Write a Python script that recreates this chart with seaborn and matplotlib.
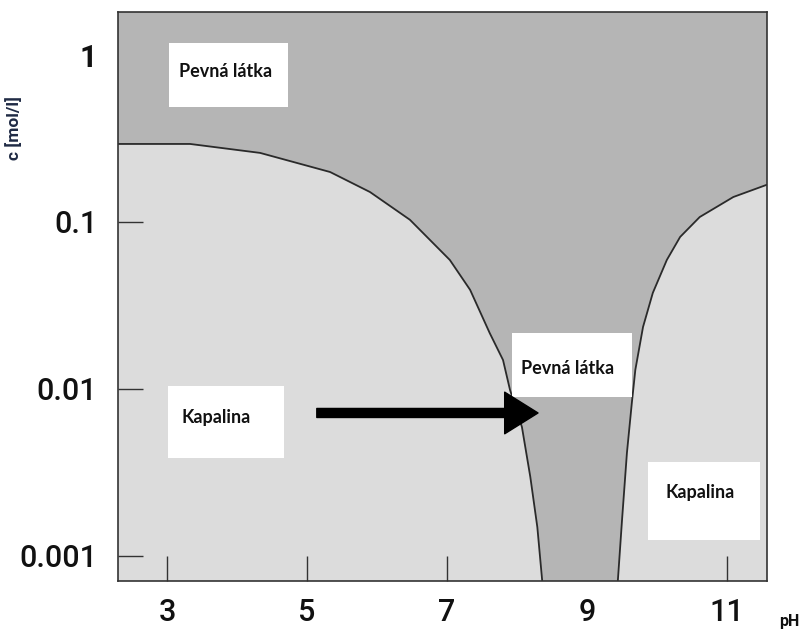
import numpy as np
import pandas as pd
import seaborn as sns
import matplotlib
matplotlib.use("Agg")
import matplotlib.pyplot as plt
from matplotlib.patches import Rectangle

# ---- data ----
left_ph = [2.30, 3.33, 4.33, 5.33, 5.90, 6.47, 7.04, 7.33, 7.61, 7.80, 7.90, 8.07, 8.19, 8.29, 8.36]
left_c = [0.293, 0.293, 0.259, 0.199, 0.151, 0.103, 0.0592, 0.0392, 0.0216, 0.0149, 0.00986, 0.00592, 0.00297, 0.00149, 0.000708]
right_ph = [9.44, 9.50, 9.57, 9.64, 9.69, 9.80, 9.94, 10.14, 10.33, 10.61, 11.09, 11.57]
right_c = [0.000708, 0.00164, 0.00414, 0.00824, 0.0130, 0.0235, 0.0376, 0.0592, 0.0813, 0.107, 0.141, 0.167]
x_ticks = [3, 5, 7, 9, 11]
x_ticklabels = ["3", "5", "7", "9", "11"]
y_ticks = [1, 0.1, 0.01, 0.001]
y_ticklabels = ["1", "0.1", "0.01", "0.001"]
region_labels = ["Pevná látka", "Pevná látka", "Kapalina", "Kapalina"]
arrow_c = 0.00718
arrow_ph_start = 5.14
arrow_ph_end = 8.30

sns.set_theme(style="white")
plt.rcParams['font.family'] = ['Roboto', 'Liberation Sans', 'DejaVu Sans']

dark = "#b5b5b5"
light = "#dcdcdc"

fig = plt.figure(figsize=(8.09, 6.34), dpi=100)
fig.patch.set_facecolor("white")
ax = fig.add_axes([118/809, (634-581)/634, 649/809, 569/634])
ax.set_facecolor(dark)
ax.set_axisbelow(False)

df_left = pd.DataFrame({"pH": left_ph, "c": left_c})
df_right = pd.DataFrame({"pH": right_ph, "c": right_c})

ax.set_yscale("log")
ax.fill_between(df_left["pH"], 1e-5, df_left["c"], color=light, lw=0, zorder=1)
ax.fill_between(df_right["pH"], 1e-5, df_right["c"], color=light, lw=0, zorder=1)
sns.lineplot(data=df_left, x="pH", y="c", ax=ax, color="#2a2a2a", lw=1.3, sort=False, zorder=2)
sns.lineplot(data=df_right, x="pH", y="c", ax=ax, color="#2a2a2a", lw=1.3, sort=False, zorder=2)

ax.set_xlim(2.30, 11.571)
ax.set_ylim(0.000708, 1.807)

ax.set_xticks(x_ticks)
ax.set_xticklabels(x_ticklabels)
ax.set_yticks(y_ticks)
ax.set_yticklabels(y_ticklabels)
ax.yaxis.set_minor_locator(matplotlib.ticker.NullLocator())
ax.tick_params(axis="both", which="major", direction="in", length=18, width=1.0,
               color="#333333", labelsize=22, labelcolor="#111111")
ax.tick_params(axis="y", pad=15, left=True)
ax.tick_params(axis="x", pad=12, bottom=True)
for lab in ax.get_yticklabels() + ax.get_xticklabels():
    lab.set_fontweight("medium")
for lab in ax.get_yticklabels():
    if lab.get_text() == "1":
        lab.set_fontweight("bold")
# hide ticks that are not visible in the reference
ax.xaxis.get_major_ticks()[3].tick1line.set_visible(False)
ax.yaxis.get_major_ticks()[0].tick1line.set_visible(False)

for s in ax.spines.values():
    s.set_visible(True)
    s.set_color("#333333")
    s.set_linewidth(1.2)

ax.set_ylabel("c [mol/l]", fontsize=12.5, fontweight="bold", color="#1f2a44")
ax.yaxis.set_label_coords(-0.148, 0.796)
ax.set_xlabel("pH", fontsize=11.5, fontweight="bold", color="#111111")
ax.xaxis.set_label_coords(1.035, -0.058)

# white label boxes (axes fraction coords)
boxes = [
    (0.0786, 0.833, 0.1834, 0.1125, 0.165, 0.8946),
    (0.607, 0.3234, 0.185, 0.1125, 0.693, 0.374),
    (0.077, 0.216, 0.179, 0.1265, 0.151, 0.288),
    (0.8166, 0.072, 0.1726, 0.137, 0.897, 0.156),
]
for (x0, y0, w, h, tx, ty), lab in zip(boxes, region_labels):
    ax.add_patch(Rectangle((x0, y0), w, h, transform=ax.transAxes, facecolor="white",
                           edgecolor="none", zorder=4))
    ax.text(tx, ty, lab, transform=ax.transAxes, ha="center", va="center",
            fontsize=13, fontweight="bold", family=["Lato", "DejaVu Sans"],
            color="#111111", zorder=5)

ax.annotate("", xy=(arrow_ph_end, arrow_c), xytext=(arrow_ph_start, arrow_c),
            arrowprops=dict(width=6.5, headwidth=30, headlength=24, facecolor="black",
                            edgecolor="black", shrink=0), zorder=6)

fig.savefig("out.png", dpi=100)
